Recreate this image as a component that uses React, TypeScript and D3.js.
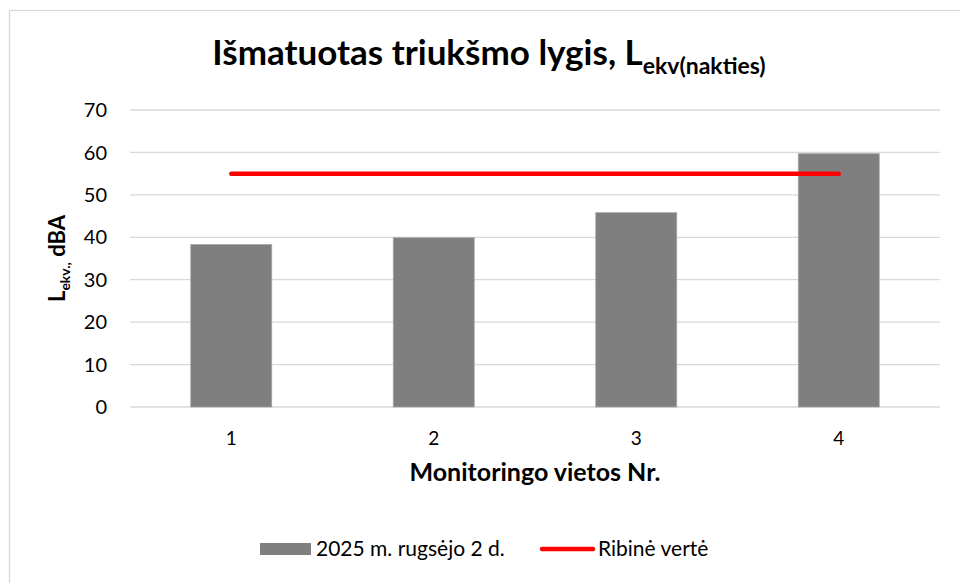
import React from 'react';
import * as d3 from 'd3';

// chart data
const categories = ['1', '2', '3', '4'];
const measured = [38.3, 39.9, 45.8, 59.7];
const limitValue = 55;
const yTicks = [0, 10, 20, 30, 40, 50, 60, 70];
const seriesLabel = '2025 m. rugsėjo 2 d.';
const limitLabel = 'Ribinė vertė';

const W = 960;
const H = 583;
const FONT = 'Lato, "Open Sans", sans-serif';

export default function App() {
  const plot = { left: 130, right: 940, top: 110, bottom: 407 };

  const x = d3.scaleBand<string>()
    .domain(categories)
    .range([plot.left, plot.right])
    .paddingInner(0.6)
    .paddingOuter(0.3);

  const y = d3.scaleLinear().domain([0, 70]).range([plot.bottom, plot.top]);

  const cx = (c: string) => (x(c) ?? 0) + x.bandwidth() / 2;

  const limitLine = d3.line<string>()
    .x(c => cx(c))
    .y(() => y(limitValue));

  return (
    <svg width={W} height={H} style={{ position: 'absolute', left: 0, top: 0, background: '#fff' }}>
      {/* outer chart frame */}
      <rect x={9.5} y={10.5} width={W} height={H} fill="#fff" stroke="#d9d9d9" strokeWidth={1.3} />

      {/* title */}
      <text x={489} y={65} textAnchor="middle" fontFamily={FONT} fontWeight={700} fontSize={35} fill="#000">
        Išmatuotas triukšmo lygis, L
        <tspan fontSize={23} dy={9}>ekv(nakties)</tspan>
      </text>

      {/* gridlines */}
      {yTicks.map(t => (
        <line key={t} x1={plot.left} x2={plot.right} y1={y(t)} y2={y(t)} stroke="#d9d9d9" strokeWidth={1.3} />
      ))}

      {/* y tick labels */}
      {yTicks.map(t => (
        <text key={'l' + t} x={107} y={y(t)} dy="0.36em" textAnchor="end" fontFamily={FONT} fontSize={20} fill="#000">
          {t}
        </text>
      ))}

      {/* bars */}
      {categories.map((c, i) => (
        <rect
          key={c}
          x={x(c)}
          y={y(measured[i])}
          width={x.bandwidth()}
          height={y(0) - y(measured[i])}
          fill="#7f7f7f"
          stroke="#a6a6a6"
          strokeWidth={0.75}
        />
      ))}

      {/* limit line */}
      <path d={limitLine(categories) || ''} fill="none" stroke="#ff0000" strokeWidth={4.5} strokeLinecap="round" />

      {/* x tick labels */}
      {categories.map(c => (
        <text key={'x' + c} x={cx(c)} y={445} textAnchor="middle" fontFamily={FONT} fontSize={19} fill="#000">
          {c}
        </text>
      ))}

      {/* axis titles */}
      <text x={(plot.left + plot.right) / 2} y={481} textAnchor="middle" fontFamily={FONT} fontWeight={700} fontSize={25} fill="#000">
        Monitoringo vietos Nr.
      </text>
      <text
        transform={`translate(65, ${(plot.top + plot.bottom) / 2}) rotate(-90)`}
        textAnchor="middle"
        fontFamily={FONT}
        fontWeight={700}
        fontSize={22}
        fill="#000"
      >
        L<tspan fontSize={14} dy={5}>ekv.,</tspan>
        <tspan dy={-5}> dBA</tspan>
      </text>

      {/* legend */}
      <g fontFamily={FONT} fontSize={21} fill="#000">
        <rect x={260} y={543} width={51} height={12} fill="#7f7f7f" />
        <text x={316} y={556}>{seriesLabel}</text>
        <line x1={542} x2={593} y1={549} y2={549} stroke="#ff0000" strokeWidth={4.5} strokeLinecap="round" />
        <text x={598} y={556}>{limitLabel}</text>
      </g>
    </svg>
  );
}
